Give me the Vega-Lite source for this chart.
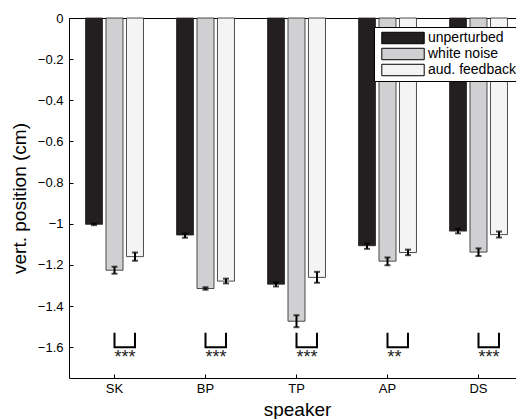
{
  "$schema": "https://vega.github.io/schema/vega-lite/v6.json",
  "width": 447,
  "height": 360,
  "autosize": "none",
  "padding": {"left": 69, "top": 18, "right": 0, "bottom": 41},
  "background": "white",
  "config": {
    "view": {"stroke": null},
    "font": "Liberation Sans",
    "axis": {
      "labelFont": "Liberation Sans",
      "titleFont": "Liberation Sans",
      "labelFontSize": 13,
      "titleFontSize": 19,
      "titleFontWeight": "normal",
      "labelColor": "black",
      "titleColor": "black",
      "domainColor": "black",
      "tickColor": "black",
      "grid": false
    },
    "legend": {
      "labelFont": "Liberation Sans",
      "labelFontSize": 14,
      "labelColor": "black"
    }
  },
  "datasets": {
    "bars": [
      {"speaker": "SK", "cond": "unperturbed", "value": -1.003, "lo": -1.007, "hi": -0.999},
      {"speaker": "SK", "cond": "white noise", "value": -1.226, "lo": -1.243, "hi": -1.209},
      {"speaker": "SK", "cond": "aud. feedback", "value": -1.16, "lo": -1.18, "hi": -1.14},
      {"speaker": "BP", "cond": "unperturbed", "value": -1.055, "lo": -1.068, "hi": -1.048},
      {"speaker": "BP", "cond": "white noise", "value": -1.315, "lo": -1.321, "hi": -1.309},
      {"speaker": "BP", "cond": "aud. feedback", "value": -1.279, "lo": -1.29, "hi": -1.267},
      {"speaker": "TP", "cond": "unperturbed", "value": -1.294, "lo": -1.305, "hi": -1.286},
      {"speaker": "TP", "cond": "white noise", "value": -1.474, "lo": -1.503, "hi": -1.445},
      {"speaker": "TP", "cond": "aud. feedback", "value": -1.261, "lo": -1.287, "hi": -1.234},
      {"speaker": "AP", "cond": "unperturbed", "value": -1.107, "lo": -1.122, "hi": -1.096},
      {"speaker": "AP", "cond": "white noise", "value": -1.182, "lo": -1.202, "hi": -1.164},
      {"speaker": "AP", "cond": "aud. feedback", "value": -1.14, "lo": -1.153, "hi": -1.126},
      {"speaker": "DS", "cond": "unperturbed", "value": -1.036, "lo": -1.047, "hi": -1.025},
      {"speaker": "DS", "cond": "white noise", "value": -1.138, "lo": -1.157, "hi": -1.12},
      {"speaker": "DS", "cond": "aud. feedback", "value": -1.053, "lo": -1.067, "hi": -1.038}
    ],
    "brackets": [
      {"speaker": "SK", "cond": "white noise", "y": -1.53, "ord": 1},
      {"speaker": "SK", "cond": "white noise", "y": -1.6, "ord": 2},
      {"speaker": "SK", "cond": "aud. feedback", "y": -1.6, "ord": 3},
      {"speaker": "SK", "cond": "aud. feedback", "y": -1.53, "ord": 4},
      {"speaker": "BP", "cond": "white noise", "y": -1.53, "ord": 1},
      {"speaker": "BP", "cond": "white noise", "y": -1.6, "ord": 2},
      {"speaker": "BP", "cond": "aud. feedback", "y": -1.6, "ord": 3},
      {"speaker": "BP", "cond": "aud. feedback", "y": -1.53, "ord": 4},
      {"speaker": "TP", "cond": "white noise", "y": -1.53, "ord": 1},
      {"speaker": "TP", "cond": "white noise", "y": -1.6, "ord": 2},
      {"speaker": "TP", "cond": "aud. feedback", "y": -1.6, "ord": 3},
      {"speaker": "TP", "cond": "aud. feedback", "y": -1.53, "ord": 4},
      {"speaker": "AP", "cond": "white noise", "y": -1.53, "ord": 1},
      {"speaker": "AP", "cond": "white noise", "y": -1.6, "ord": 2},
      {"speaker": "AP", "cond": "aud. feedback", "y": -1.6, "ord": 3},
      {"speaker": "AP", "cond": "aud. feedback", "y": -1.53, "ord": 4},
      {"speaker": "DS", "cond": "white noise", "y": -1.53, "ord": 1},
      {"speaker": "DS", "cond": "white noise", "y": -1.6, "ord": 2},
      {"speaker": "DS", "cond": "aud. feedback", "y": -1.6, "ord": 3},
      {"speaker": "DS", "cond": "aud. feedback", "y": -1.53, "ord": 4}
    ],
    "stars": [
      {"speaker": "SK", "cond": "white noise", "label": "***", "y": -1.675},
      {"speaker": "BP", "cond": "white noise", "label": "***", "y": -1.675},
      {"speaker": "TP", "cond": "white noise", "label": "***", "y": -1.675},
      {"speaker": "AP", "cond": "white noise", "label": "**", "y": -1.675},
      {"speaker": "DS", "cond": "white noise", "label": "***", "y": -1.675}
    ]
  },
  "resolve": {"axis": {"x": "independent"}},
  "layer": [
    {
      "data": {"name": "bars"},
      "mark": {"type": "bar", "stroke": "#222222", "strokeWidth": 0.8},
      "encoding": {
        "x": {
          "field": "speaker", "type": "nominal", "sort": ["SK", "BP", "TP", "AP", "DS"],
          "scale": {"range": [0, 455], "paddingInner": 0.363, "paddingOuter": 0.1815},
          "axis": {"title": "speaker", "labelAngle": 0, "tickSize": -4, "labelPadding": 8, "titlePadding": 5, "titleX": 228}
        },
        "xOffset": {
          "field": "cond", "type": "nominal", "sort": ["unperturbed", "white noise", "aud. feedback"],
          "scale": {"paddingInner": 0.17, "paddingOuter": 0}
        },
        "y": {
          "field": "value", "type": "quantitative",
          "scale": {"domain": [-1.75, 0], "nice": false, "zero": false},
          "axis": {"title": "vert. position (cm)", "values": [0, -0.2, -0.4, -0.6, -0.8, -1, -1.2, -1.4, -1.6], "format": "~g", "labelExpr": "replace(datum.label, '-', '\u2212')", "tickSize": -4, "labelPadding": 10, "titlePadding": 8}
        },
        "fill": {
          "field": "cond", "type": "nominal",
          "sort": ["unperturbed", "white noise", "aud. feedback"],
          "scale": {"domain": ["unperturbed", "white noise", "aud. feedback"], "range": ["#231f20", "#d0d0d2", "#f4f4f4"]},
          "legend": {
            "title": null,
            "orient": "none",
            "legendX": 305,
            "legendY": 9,
            "fillColor": "white",
            "strokeColor": "black",
            "padding": 3,
            "symbolType": "M-1,-0.27H1V0.27H-1Z",
            "symbolSize": 1800,
            "symbolStrokeColor": "black",
            "symbolStrokeWidth": 1,
            "symbolOffset": 4,
            "labelOffset": 3,
            "clipHeight": 16,
            "rowPadding": 0
          }
        }
      }
    },
    {
      "data": {"name": "bars"},
      "mark": {"type": "rule", "color": "black", "strokeWidth": 2},
      "encoding": {
        "x": {"field": "speaker", "type": "nominal", "sort": ["SK", "BP", "TP", "AP", "DS"], "axis": null},
        "xOffset": {"field": "cond", "type": "nominal", "sort": ["unperturbed", "white noise", "aud. feedback"]},
        "y": {"field": "lo", "type": "quantitative"},
        "y2": {"field": "hi"}
      }
    },
    {
      "data": {"name": "bars"},
      "mark": {"type": "tick", "color": "black", "size": 6, "thickness": 2},
      "encoding": {
        "x": {"field": "speaker", "type": "nominal", "sort": ["SK", "BP", "TP", "AP", "DS"], "axis": null},
        "xOffset": {"field": "cond", "type": "nominal", "sort": ["unperturbed", "white noise", "aud. feedback"]},
        "y": {"field": "lo", "type": "quantitative"}
      }
    },
    {
      "data": {"name": "bars"},
      "mark": {"type": "tick", "color": "black", "size": 6, "thickness": 2},
      "encoding": {
        "x": {"field": "speaker", "type": "nominal", "sort": ["SK", "BP", "TP", "AP", "DS"], "axis": null},
        "xOffset": {"field": "cond", "type": "nominal", "sort": ["unperturbed", "white noise", "aud. feedback"]},
        "y": {"field": "hi", "type": "quantitative"}
      }
    },
    {
      "data": {"name": "brackets"},
      "mark": {"type": "line", "color": "black", "strokeWidth": 2},
      "encoding": {
        "x": {"field": "speaker", "type": "nominal", "sort": ["SK", "BP", "TP", "AP", "DS"], "axis": {"orient": "top", "title": null, "labels": false, "ticks": false, "domain": true}},
        "xOffset": {"field": "cond", "type": "nominal", "sort": ["unperturbed", "white noise", "aud. feedback"]},
        "y": {"field": "y", "type": "quantitative"},
        "detail": {"field": "speaker"},
        "order": {"field": "ord", "type": "quantitative"}
      }
    },
    {
      "data": {"name": "stars"},
      "mark": {"type": "text", "color": "#222222", "fontSize": 18, "align": "left", "dx": 0, "baseline": "alphabetic", "font": "Liberation Sans"},
      "encoding": {
        "x": {"field": "speaker", "type": "nominal", "sort": ["SK", "BP", "TP", "AP", "DS"], "axis": null},
        "xOffset": {"field": "cond", "type": "nominal", "sort": ["unperturbed", "white noise", "aud. feedback"]},
        "y": {"field": "y", "type": "quantitative"},
        "text": {"field": "label"}
      }
    }
  ]
}
